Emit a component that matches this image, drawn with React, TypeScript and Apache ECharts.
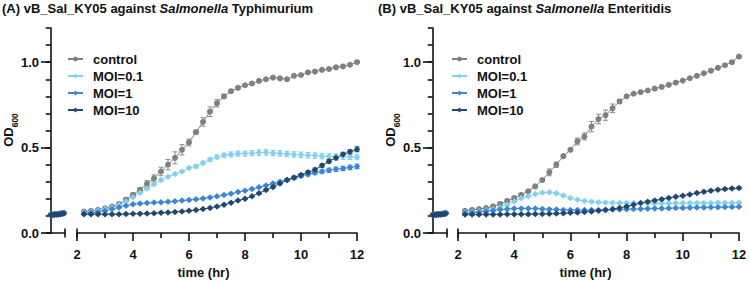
import React, { useEffect, useRef } from "react";
import * as echarts from "echarts";

// Sampling times (hours): the compressed start segment and the main 2–12 h segment
const TIME_EARLY = [0, 0.25, 0.5, 0.75, 1, 1.25, 1.5, 1.75];
const TIME_MAIN = [
  2.25, 2.5, 2.75, 3, 3.25, 3.5, 3.75, 4, 4.25, 4.5, 4.75, 5, 5.25, 5.5, 5.75, 6,
  6.25, 6.5, 6.75, 7, 7.25, 7.5, 7.75, 8, 8.25, 8.5, 8.75, 9, 9.25, 9.5, 9.75, 10,
  10.25, 10.5, 10.75, 11, 11.25, 11.5, 11.75, 12,
];

const Y_MAJOR = [0, 0.5, 1.0];
const SERIES_NAMES = ["control", "MOI=0.1", "MOI=1", "MOI=10"];
const COLORS = ["#808080", "#86d0ef", "#3b86d6", "#22476f"];
const SYMBOLS = ["circle", "diamond", "diamond", "diamond"];

// (A) Typhimurium — OD600 means
const A_EARLY_CONTROL = [0.108, 0.109, 0.11, 0.111, 0.112, 0.114, 0.116, 0.118];
const A_EARLY_MOI01 = [0.107, 0.108, 0.109, 0.11, 0.111, 0.113, 0.115, 0.117];
const A_EARLY_MOI1 = [0.106, 0.107, 0.108, 0.109, 0.11, 0.112, 0.114, 0.116];
const A_EARLY_MOI10 = [0.105, 0.106, 0.107, 0.108, 0.109, 0.11, 0.112, 0.114];

const A_CONTROL = [
  0.126, 0.13, 0.135, 0.145, 0.155, 0.17, 0.195, 0.224, 0.253, 0.288, 0.32, 0.36,
  0.4, 0.44, 0.487, 0.53, 0.59, 0.65, 0.71, 0.76, 0.8, 0.83, 0.85, 0.865, 0.875,
  0.89, 0.9, 0.91, 0.905, 0.9, 0.92, 0.925, 0.94, 0.945, 0.955, 0.96, 0.97, 0.975,
  0.985, 1.0,
];
const A_MOI01 = [
  0.12, 0.125, 0.13, 0.14, 0.15, 0.165, 0.185, 0.21, 0.235, 0.26, 0.285, 0.31,
  0.33, 0.345, 0.36, 0.38, 0.39, 0.41, 0.43, 0.445, 0.455, 0.46, 0.465, 0.465,
  0.467, 0.47, 0.472, 0.468, 0.466, 0.463, 0.46, 0.458, 0.455, 0.453, 0.45, 0.45,
  0.448, 0.447, 0.446, 0.445,
];
const A_MOI1 = [
  0.115, 0.118, 0.122, 0.13, 0.14, 0.15, 0.16, 0.168, 0.172, 0.175, 0.178, 0.18,
  0.183, 0.186, 0.19, 0.193, 0.197, 0.202, 0.208, 0.215, 0.222, 0.23, 0.24, 0.248,
  0.258, 0.268, 0.278, 0.29, 0.3, 0.31, 0.322, 0.333, 0.343, 0.352, 0.36, 0.367,
  0.373, 0.378, 0.384, 0.39,
];
const A_MOI10 = [
  0.11, 0.11, 0.11, 0.11, 0.11, 0.11, 0.111, 0.112, 0.113, 0.114, 0.116, 0.118,
  0.12, 0.123, 0.126, 0.13, 0.134, 0.14, 0.147, 0.155, 0.165, 0.177, 0.19, 0.2,
  0.215, 0.233, 0.252, 0.27, 0.29, 0.31, 0.325, 0.34, 0.355, 0.37, 0.395, 0.42,
  0.44, 0.46, 0.475, 0.49,
];

// (A) standard deviations
const A_ERR_CONTROL = [
  0.005, 0.005, 0.005, 0.005, 0.005, 0.005, 0.008, 0.01, 0.012, 0.018, 0.02, 0.025,
  0.03, 0.035, 0.03, 0.02, 0.012, 0.025, 0.028, 0.022, 0.012, 0.008, 0.006, 0.005,
  0.005, 0.005, 0.005, 0.005, 0.005, 0.005, 0.005, 0.005, 0.005, 0.005, 0.005,
  0.005, 0.005, 0.005, 0.005, 0.005,
];
const A_ERR_MOI01 = [
  0.004, 0.004, 0.004, 0.004, 0.004, 0.004, 0.004, 0.004, 0.006, 0.006, 0.006, 0.006,
  0.006, 0.006, 0.006, 0.006, 0.01, 0.01, 0.01, 0.012, 0.012, 0.015, 0.015, 0.015,
  0.015, 0.016, 0.016, 0.016, 0.016, 0.016, 0.016, 0.016, 0.016, 0.016, 0.016,
  0.016, 0.016, 0.016, 0.016, 0.016,
];
const A_ERR_MOI1 = [
  0.004, 0.004, 0.004, 0.004, 0.004, 0.004, 0.004, 0.004, 0.004, 0.004, 0.004, 0.004,
  0.004, 0.004, 0.004, 0.004, 0.004, 0.004, 0.004, 0.004, 0.004, 0.004, 0.004, 0.004,
  0.005, 0.005, 0.005, 0.006, 0.006, 0.007, 0.008, 0.008, 0.009, 0.01, 0.01, 0.012,
  0.012, 0.012, 0.013, 0.013,
];
const A_ERR_MOI10 = [
  0.004, 0.004, 0.004, 0.004, 0.004, 0.004, 0.004, 0.004, 0.004, 0.004, 0.004, 0.004,
  0.004, 0.004, 0.004, 0.004, 0.004, 0.004, 0.004, 0.004, 0.004, 0.004, 0.004, 0.005,
  0.005, 0.005, 0.006, 0.006, 0.007, 0.007, 0.008, 0.008, 0.009, 0.01, 0.01, 0.011,
  0.012, 0.012, 0.013, 0.014,
];

// (B) Enteritidis — OD600 means
const B_EARLY_CONTROL = [0.107, 0.108, 0.109, 0.11, 0.111, 0.113, 0.115, 0.118];
const B_EARLY_MOI01 = [0.106, 0.107, 0.108, 0.109, 0.11, 0.112, 0.114, 0.116];
const B_EARLY_MOI1 = [0.106, 0.107, 0.108, 0.109, 0.11, 0.111, 0.113, 0.115];
const B_EARLY_MOI10 = [0.105, 0.106, 0.107, 0.108, 0.109, 0.11, 0.111, 0.113];

const B_CONTROL = [
  0.13, 0.135, 0.14, 0.146, 0.156, 0.17, 0.187, 0.205, 0.224, 0.244, 0.273, 0.31,
  0.355, 0.4, 0.45, 0.487, 0.536, 0.565, 0.623, 0.667, 0.69, 0.73, 0.77, 0.8, 0.815,
  0.825, 0.834, 0.845, 0.855, 0.867, 0.88, 0.892, 0.906, 0.92, 0.935, 0.95, 0.967,
  0.982, 1.0, 1.033,
];
const B_MOI01 = [
  0.12, 0.123, 0.127, 0.133, 0.14, 0.15, 0.165, 0.185, 0.203, 0.215, 0.228, 0.236,
  0.238, 0.232, 0.22, 0.205, 0.195, 0.188, 0.183, 0.18, 0.178, 0.177, 0.176, 0.175,
  0.175, 0.174, 0.174, 0.174, 0.174, 0.174, 0.175, 0.175, 0.175, 0.176, 0.176,
  0.176, 0.177, 0.177, 0.177, 0.178,
];
const B_MOI1 = [
  0.115, 0.118, 0.122, 0.127, 0.132, 0.137, 0.14, 0.143, 0.144, 0.144, 0.143, 0.141,
  0.139, 0.137, 0.135, 0.134, 0.134, 0.134, 0.135, 0.135, 0.136, 0.137, 0.138,
  0.139, 0.14, 0.141, 0.142, 0.143, 0.144, 0.145, 0.146, 0.147, 0.148, 0.149, 0.15,
  0.151, 0.151, 0.152, 0.152, 0.153,
];
const B_MOI10 = [
  0.108, 0.108, 0.108, 0.109, 0.109, 0.109, 0.11, 0.11, 0.11, 0.11, 0.111, 0.111,
  0.112, 0.114, 0.116, 0.118, 0.12, 0.123, 0.126, 0.13, 0.134, 0.14, 0.147, 0.155,
  0.165, 0.175, 0.183, 0.19, 0.198, 0.205, 0.212, 0.218, 0.226, 0.234, 0.241, 0.248,
  0.253, 0.257, 0.261, 0.263,
];

// (B) standard deviations
const B_ERR_CONTROL = [
  0.005, 0.005, 0.005, 0.005, 0.005, 0.005, 0.012, 0.01, 0.006, 0.006, 0.006, 0.008,
  0.02, 0.015, 0.008, 0.008, 0.02, 0.02, 0.03, 0.028, 0.03, 0.025, 0.012, 0.006,
  0.005, 0.005, 0.005, 0.005, 0.005, 0.005, 0.005, 0.005, 0.005, 0.005, 0.005,
  0.005, 0.005, 0.005, 0.005, 0.005,
];
const B_ERR_MOI01 = [
  0.004, 0.004, 0.004, 0.004, 0.004, 0.004, 0.004, 0.005, 0.005, 0.005, 0.005, 0.005,
  0.005, 0.005, 0.005, 0.005, 0.005, 0.005, 0.005, 0.005, 0.005, 0.005, 0.005, 0.005,
  0.005, 0.005, 0.005, 0.005, 0.005, 0.005, 0.005, 0.005, 0.005, 0.005, 0.005,
  0.005, 0.005, 0.005, 0.005, 0.005,
];
const B_ERR_MOI1 = [
  0.004, 0.004, 0.004, 0.004, 0.004, 0.004, 0.004, 0.004, 0.004, 0.004, 0.004, 0.004,
  0.004, 0.004, 0.004, 0.004, 0.004, 0.004, 0.004, 0.004, 0.004, 0.004, 0.004, 0.004,
  0.004, 0.004, 0.004, 0.004, 0.004, 0.004, 0.004, 0.004, 0.004, 0.004, 0.004,
  0.004, 0.004, 0.004, 0.004, 0.004,
];
const B_ERR_MOI10 = [
  0.004, 0.004, 0.004, 0.004, 0.004, 0.004, 0.004, 0.004, 0.004, 0.004, 0.004, 0.004,
  0.004, 0.004, 0.004, 0.004, 0.004, 0.004, 0.004, 0.004, 0.004, 0.004, 0.004, 0.004,
  0.004, 0.004, 0.005, 0.005, 0.005, 0.005, 0.005, 0.005, 0.005, 0.006, 0.006,
  0.006, 0.006, 0.006, 0.006, 0.006,
];

const FONT = "'Liberation Sans', Arial, Helvetica, sans-serif";
const INK = "#111111";

// plot frame geometry
const PLOT_TOP = 28;
const PLOT_BOTTOM = 233;
const PANELS = [
  {
    axisX: 50, seg1End: 65, seg2Start: 77, seg2End: 357,
    title: "(A) vB_Sal_KY05 against ", titleTail: " Typhimurium", titleX: 2,
    legendX: 67,
    early: [A_EARLY_CONTROL, A_EARLY_MOI01, A_EARLY_MOI1, A_EARLY_MOI10],
    main: [A_CONTROL, A_MOI01, A_MOI1, A_MOI10],
    err: [A_ERR_CONTROL, A_ERR_MOI01, A_ERR_MOI1, A_ERR_MOI10],
  },
  {
    axisX: 432, seg1End: 447, seg2Start: 458, seg2End: 739,
    title: "(B) vB_Sal_KY05 against ", titleTail: " Enteritidis", titleX: 378,
    legendX: 451,
    early: [B_EARLY_CONTROL, B_EARLY_MOI01, B_EARLY_MOI1, B_EARLY_MOI10],
    main: [B_CONTROL, B_MOI01, B_MOI1, B_MOI10],
    err: [B_ERR_CONTROL, B_ERR_MOI01, B_ERR_MOI1, B_ERR_MOI10],
  },
];

function buildOption() {
  const grid: any[] = [];
  const xAxis: any[] = [];
  const yAxis: any[] = [];
  const series: any[] = [];
  const graphic: any[] = [];
  const title: any[] = [];
  const legend: any[] = [];
  const axisLine = { show: true, lineStyle: { color: INK, width: 1.6 } };
  const labelStyle = { fontFamily: FONT, fontSize: 13, fontWeight: "bold", color: INK };

  PANELS.forEach((p, pi) => {
    const gEarly = pi * 2;
    const gMain = pi * 2 + 1;
    const xEarly = pi * 2;
    const xMain = pi * 2 + 1;
    const yEarly = pi * 3;
    const yMain = pi * 3 + 2;
    const h = PLOT_BOTTOM - PLOT_TOP;

    grid.push({ left: p.axisX, top: PLOT_TOP, width: p.seg1End - p.axisX, height: h, outerBoundsMode: "none" });
    grid.push({ left: p.seg2Start, top: PLOT_TOP, width: p.seg2End - p.seg2Start, height: h, outerBoundsMode: "none" });

    xAxis.push({
      type: "value", gridIndex: gEarly, min: -0.1, max: 1.9, position: "bottom",
      axisLine, axisTick: { show: false }, axisLabel: { show: false }, splitLine: { show: false },
    });
    // axis title is centred on the full broken axis (both segments)
    const fullCentre = (p.axisX + p.seg2End) / 2;
    const mainCentre = (p.seg2Start + p.seg2End) / 2;
    xAxis.push({
      type: "value", gridIndex: gMain, min: 2, max: 12, interval: 2, position: "bottom",
      axisLine,
      axisTick: { show: true, length: 8, lineStyle: { color: INK, width: 1.6 } },
      minorTick: { show: true, splitNumber: 2, length: 5, lineStyle: { color: INK, width: 1.6 } },
      axisLabel: { ...labelStyle, margin: 15 },
      splitLine: { show: false },
      name: "time (hr)", nameLocation: "middle", nameGap: 33,
      nameTextStyle: { ...labelStyle, padding: [0, (mainCentre - fullCentre) * 2, 0, 0] },
    });

    yAxis.push({
      type: "value", gridIndex: gEarly, min: 0, max: 1.2, interval: 0.1, position: "left",
      axisLine,
      axisTick: { show: true, length: 5, lineStyle: { color: INK, width: 1.6 } },
      axisLabel: { show: false }, splitLine: { show: false },
    });
    yAxis.push({
      type: "value", gridIndex: gEarly, min: 0, max: 1.2, interval: 0.5, position: "left", offset: 0,
      axisLine: { show: false },
      axisTick: { show: true, length: 9, customValues: Y_MAJOR, lineStyle: { color: INK, width: 1.6 } },
      axisLabel: { ...labelStyle, margin: 11, customValues: Y_MAJOR, formatter: (v: number) => v.toFixed(1) },
      splitLine: { show: false },
    });
    yAxis.push({ type: "value", gridIndex: gMain, min: 0, max: 1.2, show: false, position: "left", splitLine: { show: false } });

    SERIES_NAMES.forEach((name, si) => {
      const color = COLORS[si];
      const errColor = si === 0 ? "#8c8c8c" : color;
      series.push({
        type: "custom",
        xAxisIndex: xMain, yAxisIndex: yMain,
        silent: true,
        data: TIME_MAIN.map((t, k) => [t, p.main[si][k], p.err[si][k]]),
        renderItem: (params: any, api: any) => {
          const x = api.value(0);
          const y = api.value(1);
          const e = api.value(2);
          const top = api.coord([x, y + e]);
          const bot = api.coord([x, y - e]);
          const hw = 2.5;
          const st = { stroke: errColor, lineWidth: 1 };
          return {
            type: "group",
            children: [
              { type: "line", shape: { x1: top[0], y1: top[1], x2: bot[0], y2: bot[1] }, style: st },
              { type: "line", shape: { x1: top[0] - hw, y1: top[1], x2: top[0] + hw, y2: top[1] }, style: st },
              { type: "line", shape: { x1: bot[0] - hw, y1: bot[1], x2: bot[0] + hw, y2: bot[1] }, style: st },
            ],
          };
        },
      });
      const common = {
        type: "line", name,
        symbol: SYMBOLS[si], symbolSize: si === 0 ? 6 : 6.5,
        lineStyle: { color, width: 1 },
        itemStyle: { color },
        emphasis: { disabled: true },
      };
      series.push({
        ...common, xAxisIndex: xEarly, yAxisIndex: yEarly,
        data: TIME_EARLY.map((t, k) => [t, p.early[si][k]]),
      });
      series.push({
        ...common, xAxisIndex: xMain, yAxisIndex: yMain,
        data: TIME_MAIN.map((t, k) => [t, p.main[si][k]]),
      });
    });

    // break caps at the ends of the two x-axis segments
    [p.seg1End, p.seg2Start].forEach((cx) => {
      graphic.push({
        type: "line",
        shape: { x1: cx, y1: PLOT_BOTTOM - 4.5, x2: cx, y2: PLOT_BOTTOM + 4.5 },
        style: { stroke: INK, lineWidth: 1.6 },
      });
    });

    // y-axis title with subscript
    graphic.push({
      type: "text",
      x: p.axisX - 41, y: 130,
      rotation: Math.PI / 2,
      style: {
        text: "{a|OD}{b|600}",
        align: "center", verticalAlign: "middle",
        rich: {
          a: { fontFamily: FONT, fontSize: 13, fontWeight: "bold", fill: INK, lineHeight: 14, verticalAlign: "top" },
          b: { fontFamily: FONT, fontSize: 8.5, fontWeight: "bold", fill: INK, lineHeight: 9, verticalAlign: "top", padding: [8, 0, 0, 0] },
        },
      },
    });

    title.push({
      left: p.titleX, top: 2, padding: 0,
      text: `{n|${p.title}}{i|Salmonella}{n|${p.titleTail}}`,
      textStyle: {
        rich: {
          n: { fontFamily: FONT, fontSize: 13, fontWeight: "bold", color: INK },
          i: { fontFamily: FONT, fontSize: 13, fontWeight: "bold", fontStyle: "italic", color: INK },
        },
      },
    });

    legend.push({
      left: p.legendX, top: 52, orient: "vertical", padding: 0,
      data: SERIES_NAMES, selectedMode: false,
      itemWidth: 15, itemHeight: 6, itemGap: 3,
      textStyle: { ...labelStyle, padding: [0, 0, 0, 5], lineHeight: 14 },
    });
  });

  return {
    animation: false,
    backgroundColor: "#ffffff",
    title, legend, grid, xAxis, yAxis, series, graphic,
  };
}

export default function App() {
  const ref = useRef<HTMLDivElement>(null);
  useEffect(() => {
    if (!ref.current) return;
    const chart = echarts.init(ref.current, undefined, { renderer: "svg" });
    chart.setOption(buildOption() as any);
    return () => chart.dispose();
  }, []);
  return (
    <div
      ref={ref}
      style={{ position: "fixed", left: 0, top: 0, width: 750, height: 283, background: "#fff" }}
    />
  );
}
